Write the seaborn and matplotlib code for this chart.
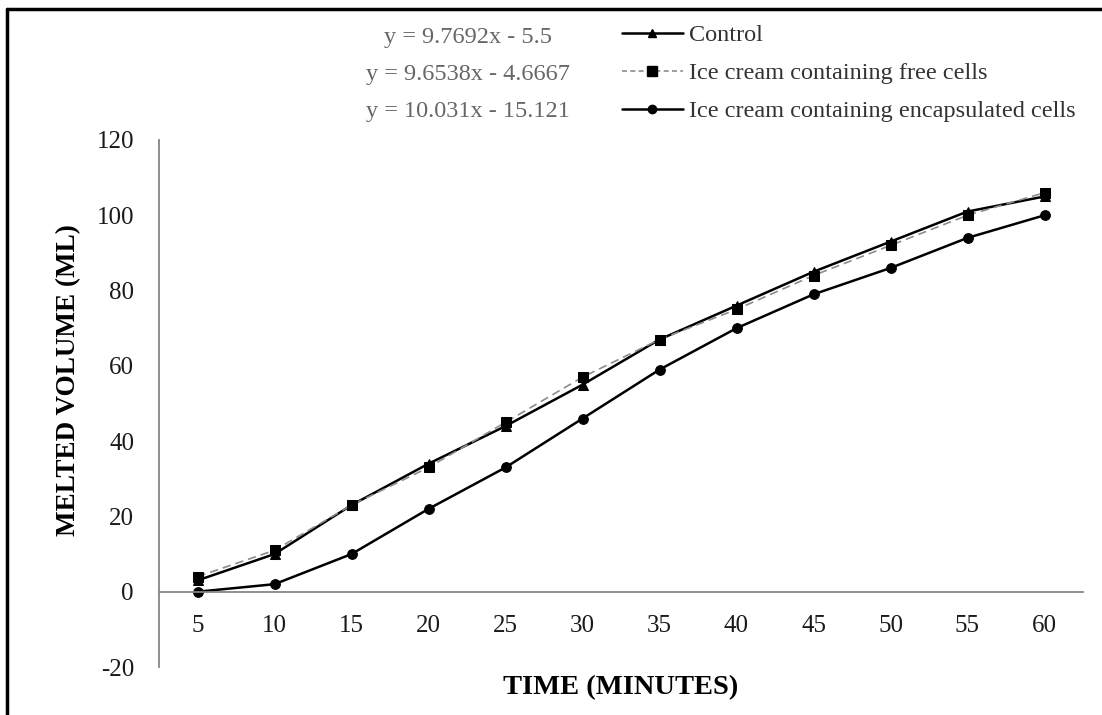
import matplotlib
matplotlib.use("Agg")
import matplotlib.pyplot as plt
from matplotlib.lines import Line2D
import seaborn as sns
import numpy as np

# ---- data ----
time_labels = ["5", "10", "15", "20", "25", "30", "35", "40", "45", "50", "55", "60"]
control = [3, 10, 23, 34, 44, 55, 67, 76, 85, 93, 101, 105]
free_cells = [4, 11, 23, 33, 45, 57, 67, 75, 84, 92, 100, 106]
encapsulated = [0, 2, 10, 22, 33, 46, 59, 70, 79, 86, 94, 100]
series_names = ["Control", "Ice cream containing free cells",
                "Ice cream containing encapsulated cells"]
equations = ["y = 9.7692x - 5.5", "y = 9.6538x - 4.6667", "y = 10.031x - 15.121"]
y_ticks = [-20, 0, 20, 40, 60, 80, 100, 120]

sns.set_theme(style="white")
plt.rcParams["font.family"] = ["Liberation Serif", "DejaVu Serif"]

fig = plt.figure(figsize=(11.02, 7.15), dpi=100)
ax = fig.add_axes([159 / 1102, 48 / 715, (1083 - 159) / 1102, (667 - 140) / 715])

pos = np.arange(len(time_labels))

sns.lineplot(x=pos, y=control, ax=ax, color="black", linewidth=1.8,
             marker="^", markersize=7, markeredgecolor="black", label=series_names[0],
             legend=False)
sns.lineplot(x=pos, y=free_cells, ax=ax, color="#8c8c8c", linewidth=1.2,
             linestyle=(0, (5, 3)), marker="s", markersize=7.5,
             markerfacecolor="black", markeredgecolor="black", label=series_names[1],
             legend=False)
sns.lineplot(x=pos, y=encapsulated, ax=ax, color="black", linewidth=1.8,
             marker="o", markersize=7, markeredgecolor="black", label=series_names[2],
             legend=False)

ax.set_xlim(-0.5, len(time_labels) - 0.5)
ax.set_ylim(-20, 120)
ax.set_xticks(pos)
ax.set_xticklabels(time_labels)
ax.set_yticks(y_ticks)
ax.set_yticklabels([str(v) for v in y_ticks])

for s in ["top", "right"]:
    ax.spines[s].set_visible(False)
ax.spines["bottom"].set_position(("data", 0))
for s in ["left", "bottom"]:
    ax.spines[s].set_color("#868686")
    ax.spines[s].set_linewidth(1.3)

ax.tick_params(axis="x", length=0, pad=17, labelsize=18, labelcolor="#1a1a1a")
ax.tick_params(axis="y", length=0, pad=18, labelsize=18, labelcolor="#1a1a1a")
ax.grid(False)

ax.set_xlabel("TIME (MINUTES)", fontsize=20.5, fontweight="bold", color="black")
ax.xaxis.set_label_coords(0.5, -0.016)
ax.set_ylabel("MELTED VOLUME (ML)", fontsize=19.5, fontweight="bold", color="black")
ax.yaxis.set_label_coords(-0.084, 0.545)

# legend
handles = [
    Line2D([], [], color="black", linewidth=1.8, marker="^", markersize=6,
           markeredgecolor="black"),
    Line2D([], [], color="#8c8c8c", linewidth=1.2, linestyle=(0, (3, 2)), marker="s",
           markersize=6.5, markerfacecolor="black", markeredgecolor="black"),
    Line2D([], [], color="black", linewidth=1.8, marker="o", markersize=6,
           markeredgecolor="black"),
]
leg = fig.legend(handles, series_names, loc="upper left",
                 bbox_to_anchor=(622 / 1102, 1 - 24 / 715), frameon=False,
                 fontsize=17.5, handlelength=2.5, handletextpad=0.25,
                 labelspacing=0.66, borderpad=0, borderaxespad=0)
for t in leg.get_texts():
    t.set_color("#333333")

# trendline equations
for i, eq in enumerate(equations):
    fig.text(468 / 1102, 1 - (37 + 37.5 * i) / 715, eq, ha="center", va="center",
             fontsize=17.5, color="#666666")

# outer frame (top and left edges)
fig.add_artist(Line2D([7 / 1102, 1], [1 - 9 / 715, 1 - 9 / 715],
                      transform=fig.transFigure, color="black", linewidth=2.5))
fig.add_artist(Line2D([7 / 1102, 7 / 1102], [0, 1 - 9 / 715],
                      transform=fig.transFigure, color="black", linewidth=2.5))

fig.savefig("out.png", dpi=100)
